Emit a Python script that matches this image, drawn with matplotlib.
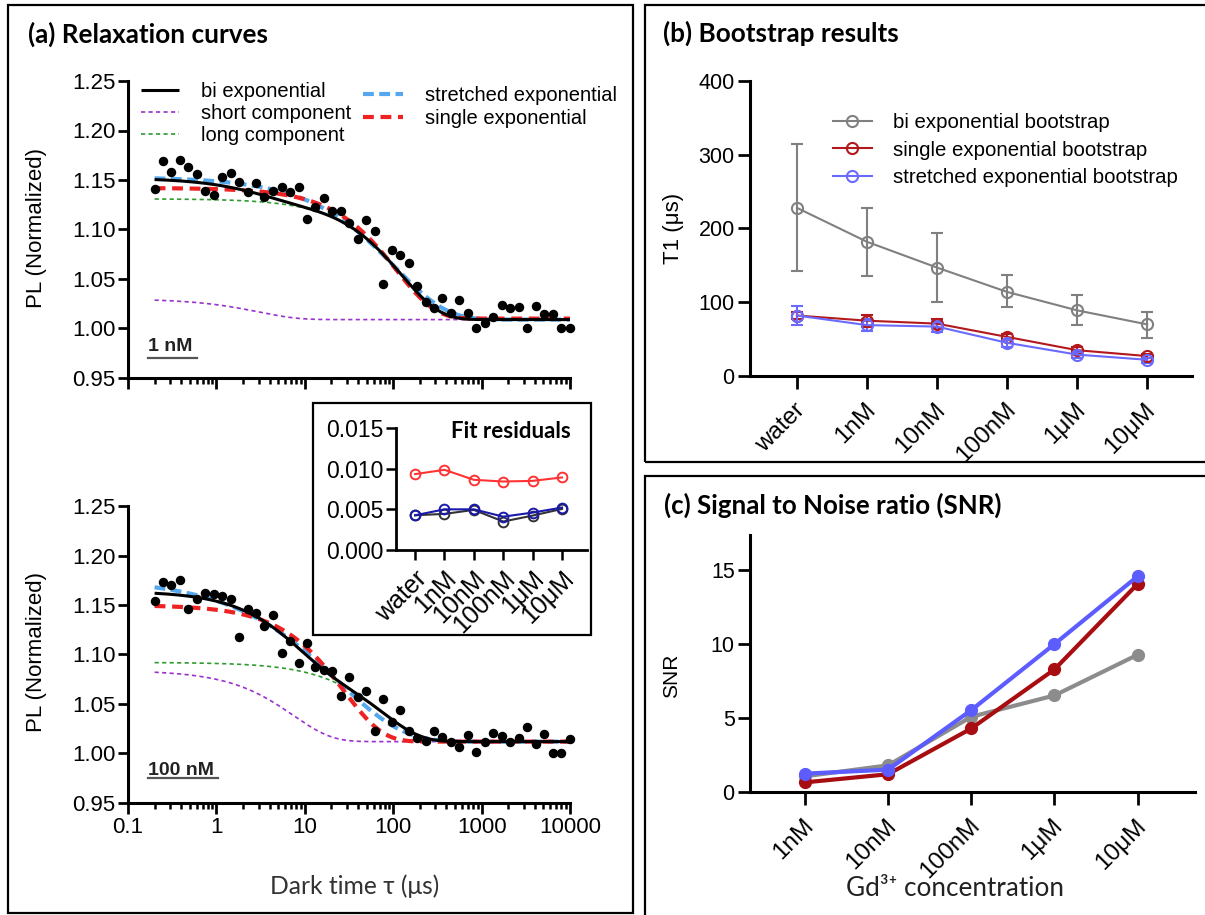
import numpy as np
import matplotlib
matplotlib.use("Agg")
import matplotlib.pyplot as plt
from matplotlib.lines import Line2D
from matplotlib.patches import Rectangle
from matplotlib.ticker import LogLocator, NullFormatter, FixedLocator
from matplotlib.transforms import ScaledTranslation

plt.rcParams['font.family'] = ['Liberation Sans', 'DejaVu Sans']
TITLE_FONT = ['Lato', 'DejaVu Sans']

# ---------------- data ----------------
# (a) relaxation curves: dark time (us) and normalized PL
tau = [0.2, 0.25, 0.31, 0.39, 0.48, 0.6, 0.75, 0.94, 1.17, 1.46,
       1.8, 2.3, 2.8, 3.5, 4.4, 5.5, 6.8, 8.5, 10.6, 13.2,
       16.5, 20.5, 25.6, 31.9, 39.8, 49.6, 61.9, 77.2, 96.2, 120,
       150, 186, 232, 290, 361, 450, 562, 700, 873, 1089,
       1357, 1692, 2110, 2631, 3280, 4090, 5099, 6357, 7926, 9900]
pl_1nM = [1.141, 1.169, 1.158, 1.170, 1.163, 1.156, 1.139, 1.135, 1.153, 1.157,
          1.148, 1.138, 1.147, 1.133, 1.139, 1.143, 1.138, 1.143, 1.111, 1.123,
          1.132, 1.119, 1.119, 1.107, 1.090, 1.110, 1.098, 1.045, 1.079, 1.074,
          1.066, 1.043, 1.027, 1.021, 1.031, 1.016, 1.029, 1.016, 1.000, 1.006,
          1.012, 1.024, 1.021, 1.022, 1.001, 1.023, 1.015, 1.015, 1.001, 1.000]
pl_100nM = [1.154, 1.173, 1.170, 1.175, 1.146, 1.156, 1.162, 1.161, 1.159, 1.156,
            1.118, 1.146, 1.142, 1.129, 1.140, 1.102, 1.114, 1.091, 1.112, 1.087,
            1.084, 1.083, 1.058, 1.077, 1.057, 1.063, 1.023, 1.055, 1.032, 1.044,
            1.023, 1.016, 1.013, 1.023, 1.017, 1.012, 1.007, 1.019, 1.002, 1.012,
            1.021, 1.018, 1.012, 1.016, 1.027, 1.010, 1.020, 1.001, 1.000, 1.015]

# fit parameters: baseline, amplitude(s), time constant(s), stretch exponent
fit_bi_1nM = [1.009, 0.021, 3.0, 0.122, 125.0]
fit_single_1nM = [1.010, 0.132, 110.0]
fit_stretch_1nM = [1.009, 0.144, 105.0, 0.75]
fit_bi_100nM = [1.012, 0.072, 7.4, 0.080, 76.0]
fit_single_100nM = [1.012, 0.138, 28.0]
fit_stretch_100nM = [1.012, 0.165, 24.0, 0.6]

# inset: fit residuals
res_labels = ['water', '1nM', '10nM', '100nM', '1μM', '10μM']
res_bi = [0.00427, 0.00444, 0.00493, 0.00350, 0.00423, 0.00505]
res_single = [0.00933, 0.00986, 0.00863, 0.00842, 0.00850, 0.00892]
res_stretch = [0.00427, 0.00500, 0.00500, 0.00410, 0.00460, 0.00522]

# (b) bootstrap T1 (us)
conc_b = ['water', '1nM', '10nM', '100nM', '1μM', '10μM']
bi_t1 = [228, 182, 147, 114, 89, 70]
bi_lo = [142, 136, 101, 93, 69, 52]
bi_hi = [314, 228, 194, 137, 110, 87]
single_t1 = [82, 75, 71, 53, 35, 27]
single_lo = [77, 67, 65, 49, 31, 24]
single_hi = [87, 83, 77, 57, 39, 30]
stretch_t1 = [82, 69, 67, 45, 29, 22]
stretch_lo = [69, 61, 59, 39, 25, 18]
stretch_hi = [95, 77, 75, 49, 32, 25]

# (c) SNR
conc_c = ['1nM', '10nM', '100nM', '1μM', '10μM']
snr_bi = [1.06, 1.8, 5.08, 6.52, 9.27]
snr_single = [0.65, 1.2, 4.29, 8.28, 14.05]
snr_stretch = [1.24, 1.51, 5.53, 9.99, 14.57]

# ---------------- helpers ----------------
W, H = 1205, 915


def fx(x):
    return x / W


def fy(y):
    return 1 - y / H


def rect(l, t, r, b):
    return [fx(l), fy(b), (r - l) / W, (b - t) / H]


def prism(ax, lw=2.2, length=7):
    for s in ['top', 'right']:
        ax.spines[s].set_visible(False)
    for s in ['left', 'bottom']:
        ax.spines[s].set_linewidth(lw)
    ax.tick_params(width=lw * 0.9, length=length, direction='out', pad=2)


def shift_xlabels(ax, dx_px, dy_px=0):
    off = ScaledTranslation(dx_px / 100, -dy_px / 100, fig.dpi_scale_trans)
    for lab in ax.get_xticklabels():
        lab.set_transform(lab.get_transform() + off)


def biexp(t, c, a1, t1, a2, t2):
    return c + a1 * np.exp(-t / t1) + a2 * np.exp(-t / t2)


def stretched(t, c, a, tc, beta=1.0):
    return c + a * np.exp(-(t / tc) ** beta)


fig = plt.figure(figsize=(12.05, 9.15), dpi=100)

# panel frames
for l, t, r, b in [(8, 5, 633, 913), (645, 5, 1212, 462), (645, 476, 1212, 925)]:
    fig.patches.append(Rectangle((fx(l), fy(b)), (r - l) / W, (b - t) / H, fill=False,
                                 lw=1.6, ec='black', transform=fig.transFigure, zorder=5))

fig.text(fx(28), fy(34), '(a) Relaxation curves', fontsize=18.8, fontweight='bold',
         family=TITLE_FONT, va='center')
fig.text(fx(663), fy(33), '(b) Bootstrap results', fontsize=18.8, fontweight='bold',
         family=TITLE_FONT, va='center')
fig.text(fx(664), fy(505), '(c) Signal to Noise ratio (SNR)', fontsize=18.6, fontweight='bold',
         family=TITLE_FONT, va='center')

# ---------------- (a) relaxation curves ----------------
tt = np.geomspace(0.2, 10000, 400)
styles = dict(
    bi=dict(color='black', lw=2.2, solid_capstyle='butt'),
    short=dict(color='#9a32cd', lw=1.2, dashes=(2.5, 2)),
    long=dict(color='#2e9b2e', lw=1.2, dashes=(2.5, 2)),
    stretch=dict(color='#55a8ee', lw=3, dashes=(2.6, 1.3)),
    single=dict(color='#ee2222', lw=3, dashes=(2.6, 1.6)),
)

axes_a = []
for (top, bot), pl, fb, fs, fst, conc in [
        ((81, 378), pl_1nM, fit_bi_1nM, fit_single_1nM, fit_stretch_1nM, '1 nM'),
        ((506, 803), pl_100nM, fit_bi_100nM, fit_single_100nM, fit_stretch_100nM, '100 nM')]:
    ax = fig.add_axes(rect(128, top, 570, bot))
    c, a1, t1, a2, t2 = fb
    ax.plot(tt, c + a2 * np.exp(-tt / t2), **styles['long'])
    ax.plot(tt, c + a1 * np.exp(-tt / t1), **styles['short'])
    ax.plot(tt, stretched(tt, *fst), **styles['stretch'])
    ax.plot(tt, stretched(tt, *fs), **styles['single'])
    ax.plot(tt, biexp(tt, *fb), **styles['bi'])
    ax.plot(tau, pl, 'o', color='black', ms=5.8, zorder=6, clip_on=False)
    ax.set_xscale('log')
    ax.set_xlim(0.1, 10000)
    ax.set_ylim(0.95, 1.25)
    ax.set_yticks([0.95, 1.00, 1.05, 1.10, 1.15, 1.20, 1.25])
    ax.set_yticklabels(['%.2f' % v for v in [0.95, 1.00, 1.05, 1.10, 1.15, 1.20, 1.25]])
    ax.xaxis.set_major_locator(FixedLocator([0.1, 1, 10, 100, 1000, 10000]))
    ax.xaxis.set_minor_locator(LogLocator(base=10, subs=np.arange(2, 10)))
    ax.xaxis.set_minor_formatter(NullFormatter())
    ax.set_xticklabels(['0.1', '1', '10', '100', '1000', '10000'])
    prism(ax)
    ax.tick_params(axis='x', which='major', length=8)
    ax.tick_params(axis='x', which='minor', length=4, width=1.8)
    ax.tick_params(labelsize=16)
    ax.text(0.045, 0.105 if conc == '1 nM' else 0.11, conc, transform=ax.transAxes,
            fontsize=14, fontweight='bold', va='center', ha='left', color='#222222')
    axes_a.append(ax)

ax1, ax2 = axes_a
ax1.tick_params(axis='x', labelbottom=False)

# underlines for the concentration tags
fig.add_artist(Line2D([fx(148), fx(197)], [fy(358), fy(358)], color='#555555', lw=1.6))
fig.add_artist(Line2D([fx(148), fx(218)], [fy(778), fy(778)], color='#555555', lw=1.6))

fig.text(fx(37), fy(228), 'PL (Normalized)', rotation=90, fontsize=16, va='center', ha='center')
fig.text(fx(37), fy(652), 'PL (Normalized)', rotation=90, fontsize=16, va='center', ha='center')
fig.text(fx(355), fy(886), 'Dark time τ (μs)', fontsize=17.7, va='center', ha='center',
         family=TITLE_FONT, color='#333333')

h = {k: Line2D([], [], **v) for k, v in styles.items()}
fig.legend([h['bi'], h['short'], h['long']], ['bi exponential', 'short component', 'long component'],
           loc='upper left', bbox_to_anchor=(fx(141), fy(82)), frameon=False, fontsize=14.5,
           handlelength=1.9, handletextpad=1.1, labelspacing=0.16, borderpad=0, borderaxespad=0)
fig.legend([h['stretch'], h['single']], ['stretched exponential', 'single exponential'],
           loc='upper left', bbox_to_anchor=(fx(363), fy(86)), frameon=False, fontsize=14.5,
           handlelength=2.0, handletextpad=1.1, labelspacing=0.2, borderpad=0, borderaxespad=0)

# inset: fit residuals
fig.patches.append(Rectangle((fx(313), fy(635)), 278 / W, 232 / H, fc='white', ec='black',
                             lw=1.6, transform=fig.transFigure, zorder=1))
axi = fig.add_axes(rect(396, 428, 587, 550))
axi.set_zorder(2)
axi.patch.set_alpha(0)
xi = np.arange(len(res_labels))
axi.plot(xi, res_bi, '-o', color='#333333', mfc='none', ms=7, mew=1.4, lw=1.5, clip_on=False)
axi.plot(xi, res_stretch, '-o', color='#1a1aaa', mfc='none', ms=7, mew=1.4, lw=1.5, clip_on=False)
axi.plot(xi, res_single, '-o', color='#ff3333', mfc='none', ms=7, mew=1.4, lw=1.5, clip_on=False)
axi.set_xlim(-0.65, 5.85)
axi.set_ylim(0, 0.015)
axi.set_yticks([0, 0.005, 0.010, 0.015])
axi.set_yticklabels(['0.000', '0.005', '0.010', '0.015'])
axi.set_xticks(xi)
axi.set_xticklabels(res_labels, rotation=45, ha='right', va='center', rotation_mode='anchor')
prism(axi, lw=2.0)
axi.tick_params(axis='y', labelsize=16.5)
axi.tick_params(axis='x', labelsize=18, pad=11)
shift_xlabels(axi, 8)
fig.text(fx(571), fy(431), 'Fit residuals', fontsize=16, fontweight='bold',
         family=TITLE_FONT, ha='right', va='center', zorder=3)

# ---------------- (b) bootstrap results ----------------
axb = fig.add_axes(rect(750, 81, 1192, 376))
xb = np.arange(len(conc_b))
col_b = ['#808080', '#b3191c', '#6a6aff']
for y, lo, hi, col, lab in [(bi_t1, bi_lo, bi_hi, col_b[0], 'bi exponential bootstrap'),
                            (single_t1, single_lo, single_hi, col_b[1], 'single exponential bootstrap'),
                            (stretch_t1, stretch_lo, stretch_hi, col_b[2], 'stretched exponential bootstrap')]:
    err = [np.subtract(y, lo), np.subtract(hi, y)]
    axb.errorbar(xb, y, yerr=err, color=col, marker='o', mfc='none', ms=8, mew=1.5, lw=1.5,
                 elinewidth=1.5, capsize=4.5, capthick=1.5, label=lab, clip_on=False)
axb.set_xlim(-0.67, 5.64)
axb.set_ylim(0, 400)
axb.set_yticks([0, 100, 200, 300, 400])
axb.set_xticks(xb)
axb.set_xticklabels(conc_b, rotation=45, ha='right', va='center', rotation_mode='anchor')
prism(axb, length=9)
axb.tick_params(axis='y', labelsize=15.5)
axb.tick_params(axis='x', labelsize=17.5, pad=13)
shift_xlabels(axb, 5)
fig.text(fx(673), fy(228), 'T1 (μs)', rotation=90, fontsize=16, va='center', ha='center')
hb = [Line2D([], [], color=c, marker='o', mfc='none', ms=8, mew=1.5, lw=1.5) for c in col_b]
fig.legend(hb, ['bi exponential bootstrap', 'single exponential bootstrap',
                'stretched exponential bootstrap'],
           loc='upper left', bbox_to_anchor=(fx(833), fy(113)), frameon=False, fontsize=14.7,
           handlelength=1.9, handletextpad=1.05, labelspacing=0.42, borderpad=0, borderaxespad=0)

# ---------------- (c) SNR ----------------
axc = fig.add_axes(rect(750, 535, 1195, 792))
xc = np.arange(len(conc_c))
axc.plot(xc, snr_bi, '-o', color='#8c8c8c', lw=3, ms=8.5, clip_on=False)
axc.plot(xc, snr_single, '-o', color='#a80d12', lw=3, ms=8.5, clip_on=False)
axc.plot(xc, snr_stretch, '-o', color='#5c5cff', lw=3, ms=8.5, clip_on=False)
axc.set_xlim(-0.66, 4.69)
axc.set_ylim(0, 17.36)
axc.set_yticks([0, 5, 10, 15])
axc.set_xticks(xc)
axc.set_xticklabels(conc_c, rotation=45, ha='right', va='center', rotation_mode='anchor')
prism(axc, length=9)
axc.tick_params(axis='y', labelsize=15.5)
axc.tick_params(axis='x', labelsize=17.5, pad=13)
shift_xlabels(axc, 5)
fig.text(fx(672), fy(676), 'SNR', rotation=90, fontsize=15, va='center', ha='center')
fig.text(fx(955), fy(889), 'Gd³⁺ concentration', fontsize=18.8, va='center', ha='center',
         family=TITLE_FONT, color='#222222')

fig.savefig('out.png', dpi=100)
